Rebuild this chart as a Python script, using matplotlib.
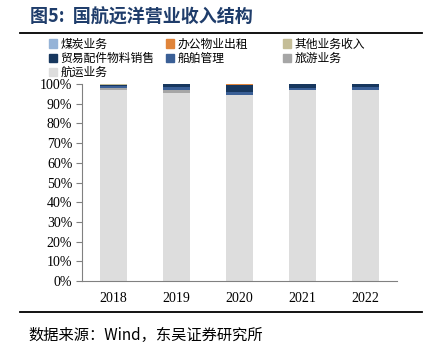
import numpy as np
import matplotlib.pyplot as plt
from matplotlib.lines import Line2D

plt.rcParams['font.family'] = ['Noto Sans CJK SC', 'DejaVu Sans']

years = ['2018', '2019', '2020', '2021', '2022']
series_names = ['煤炭业务', '办公物业出租', '其他业务收入', '贸易配件物料销售', '船舶管理', '旅游业务', '航运业务']
colors = ['#95B3D7', '#E0843A', '#C4BD97', '#17375E', '#3A5F96', '#A6A6A6', '#DDDDDD']

# percentages
coal = [0.0, 0.0, 0.0, 0.0, 0.0]
office = [0.0, 0.0, 0.4, 0.0, 0.0]
other = [0.5, 0.0, 0.0, 0.0, 0.0]
trade = [0.6, 1.5, 3.8, 1.8, 1.6]
ship_mgmt = [1.0, 1.5, 1.2, 1.0, 1.3]
tourism = [1.0, 1.6, 0.0, 0.0, 0.0]
shipping = [96.9, 95.4, 94.6, 97.2, 97.1]

stack_order = [shipping, tourism, ship_mgmt, trade, other, office, coal]
stack_colors = colors[::-1]

fig = plt.figure(figsize=(4.30, 3.53), dpi=100)
ax = fig.add_axes([0.1907, 0.204, 0.7326, 0.558])

x = np.arange(len(years))
bottom = np.zeros(len(years))
for vals, c in zip(stack_order, stack_colors):
    ax.bar(x, vals, width=0.42, bottom=bottom, color=c, edgecolor='none')
    bottom += np.array(vals)

ax.set_xlim(-0.5, len(years) - 0.5)
ax.set_ylim(0, 100)
ax.set_yticks(np.arange(0, 101, 10))
ax.set_yticklabels([f'{v}%' for v in range(0, 101, 10)], family='Liberation Serif', fontsize=10)
ax.set_xticks(x)
ax.set_xticklabels(years, family='Liberation Serif', fontsize=10)
ax.tick_params(axis='x', length=0, pad=8)
ax.tick_params(axis='y', length=4, color='#808080', direction='out', pad=3)
for s in ['top', 'right']:
    ax.spines[s].set_visible(False)
for s in ['left', 'bottom']:
    ax.spines[s].set_color('#808080')
    ax.spines[s].set_linewidth(0.8)

# title and rules
fig.text(0.07, 0.952, '图5:  国航远洋营业收入结构', fontsize=13, fontweight='bold',
         color='#1F3D6B', va='center', ha='left')
fig.add_artist(Line2D([0.047, 0.982], [0.906, 0.906], color='black', lw=1.3))
fig.add_artist(Line2D([0.047, 0.982], [0.116, 0.116], color='black', lw=1.3))
fig.text(0.065, 0.05, '数据来源：Wind，东吴证券研究所', fontsize=11, va='center', ha='left')

# legend laid out row by row, three columns
col_x = [0.108, 0.38, 0.652]
for ci in range(3):
    idx = list(range(ci, len(series_names), 3))
    handles = [plt.Rectangle((0, 0), 1, 1, color=colors[i]) for i in idx]
    labels = [series_names[i] for i in idx]
    fig.legend(handles, labels, loc='upper left', bbox_to_anchor=(col_x[ci], 0.9),
               frameon=False, fontsize=8.5, handlelength=0.7, handleheight=0.7,
               handletextpad=0.3, labelspacing=0.1, borderaxespad=0, borderpad=0.2)

fig.savefig('out.png', dpi=100)
